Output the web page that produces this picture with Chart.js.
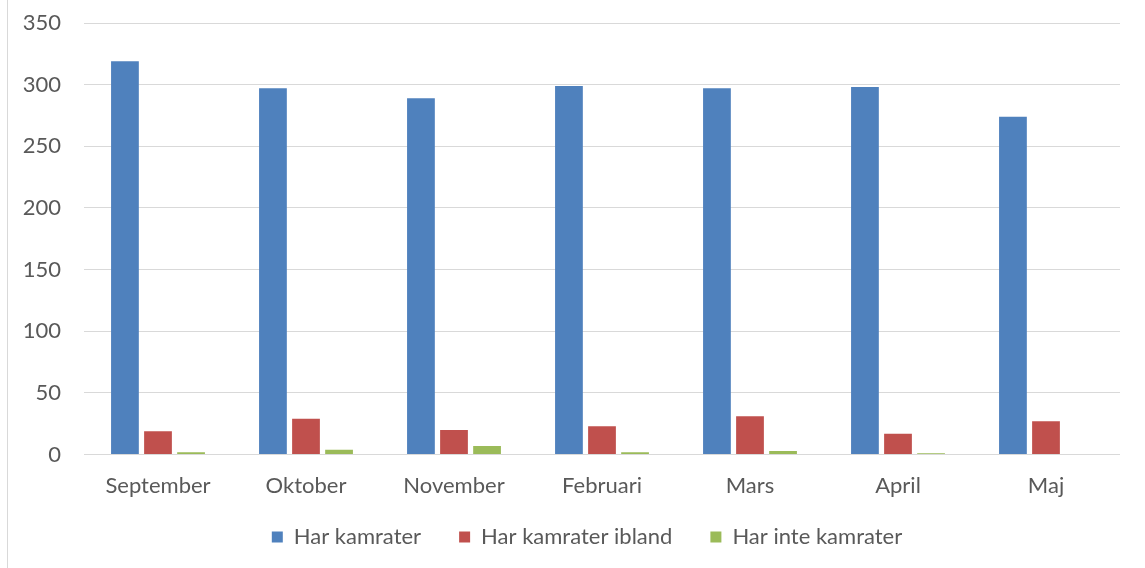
<!DOCTYPE html>
<html>
<head>
<meta charset="utf-8">
<script src="https://cdn.jsdelivr.net/npm/chart.js@4/dist/chart.umd.min.js"></script>
<style>
  html, body { margin: 0; padding: 0; background: #ffffff; }
  #wrap { position: absolute; left: 0; top: 0; width: 1145px; height: 568px; }
  #frame { position: absolute; left: 7px; top: 0; width: 0; height: 568px; border-left: 1px solid #d9d9d9; }
</style>
</head>
<body>
<div id="wrap"><canvas id="c" width="1145" height="568"></canvas></div>
<div id="frame"></div>
<script>
const categories = ["September", "Oktober", "November", "Februari", "Mars", "April", "Maj"];
const seriesNames = ["Har kamrater", "Har kamrater ibland", "Har inte kamrater"];
const harKamrater = [319, 297, 289, 299, 297, 298, 274];
const harKamraterIbland = [19, 29, 20, 23, 31, 17, 27];
const harInteKamrater = [2, 4, 7, 2, 3, 1, 0];
const yTicks = [0, 50, 100, 150, 200, 250, 300, 350];
const colors = ["#4f81bd", "#c0504d", "#9bbb59"];

const FONT = "Lato, 'Open Sans', sans-serif";
const TXT = "#595959";
const LEGEND_PAD = 38;

const legendPlace = {
  id: "legendPlace",
  afterLayout(chart) {
    const L = chart.legend;
    if (!L) return;
    const h = L.bottom - L.top;
    L.top = 537 - LEGEND_PAD - 11;
    L.bottom = L.top + h;
    L.left += 18;
    L.right += 18;
  }
};

new Chart(document.getElementById("c"), {
  type: "bar",
  data: {
    labels: categories,
    datasets: [harKamrater, harKamraterIbland, harInteKamrater].map((d, i) => ({
      label: seriesNames[i],
      data: d,
      backgroundColor: colors[i],
      borderWidth: 0,
      barPercentage: 0.84,
      categoryPercentage: 0.67
    }))
  },
  plugins: [legendPlace],
  options: {
    responsive: false,
    animation: false,
    layout: { padding: { left: 18, right: 25, top: 23, bottom: -19 } },
    plugins: {
      tooltip: { enabled: false },
      legend: {
        position: "bottom",
        labels: {
          boxWidth: 11,
          boxHeight: 11,
          padding: LEGEND_PAD,
          color: TXT,
          font: { family: FONT, size: 22 }
        }
      }
    },
    scales: {
      x: {
        grid: { display: false, drawTicks: false },
        border: { display: false },
        ticks: { color: TXT, padding: 18, font: { family: FONT, size: 22 } }
      },
      y: {
        min: 0,
        max: 350,
        afterBuildTicks: (s) => { s.ticks = yTicks.map(v => ({ value: v })); },
        afterFit: (s) => { s.width = 66; },
        grid: { color: "#d9d9d9", lineWidth: 1, drawTicks: true, tickLength: 23, tickColor: "rgba(0,0,0,0)" },
        border: { display: false },
        ticks: { color: TXT, padding: 0, font: { family: FONT, size: 22 } }
      }
    }
  }
});
</script>
</body>
</html>
